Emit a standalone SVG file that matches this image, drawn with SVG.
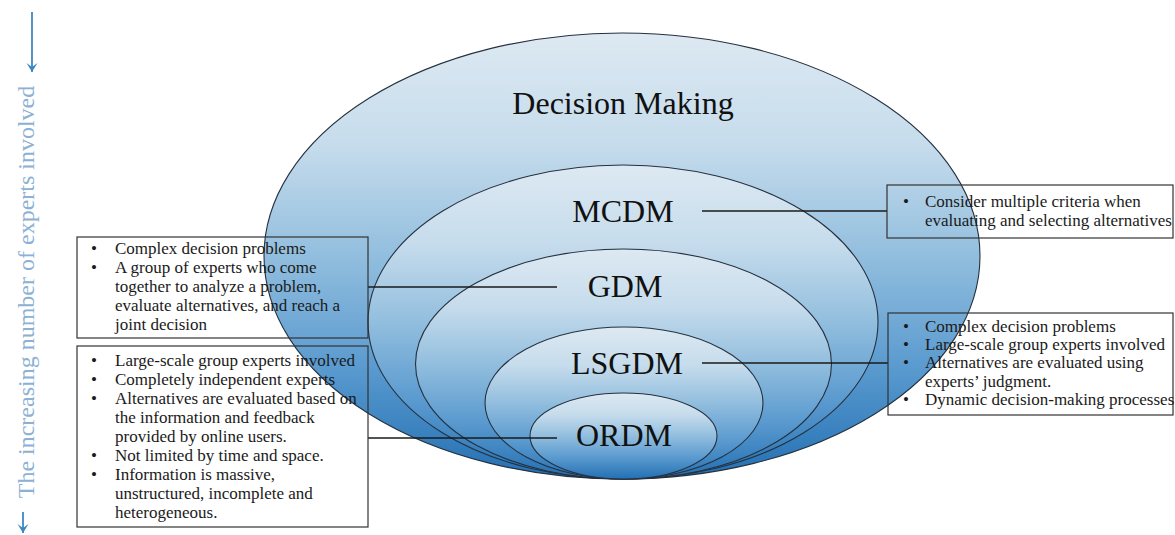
<svg xmlns="http://www.w3.org/2000/svg" width="1175" height="535" viewBox="0 0 1175 535">
<style>
  .ell { stroke: #26313f; stroke-width: 1.1; fill: url(#blue); }
  .lbl { font-family: "Liberation Serif", "Times New Roman", serif; font-size: 32px; fill: #111; text-anchor: middle; }
  .box { fill: none; stroke: #333; stroke-width: 1.2; }
  .bt { font-family: "Liberation Serif", "Times New Roman", serif; font-size: 17px; fill: #1a1a1a; }
  .con { stroke: #1a1a1a; stroke-width: 1.3; fill: none; }
  .side { font-family: "Liberation Serif", "Times New Roman", serif; font-size: 24px; fill: #8cb1d2; text-anchor: middle; }
  .arr { stroke: #3d88c2; stroke-width: 1.8; fill: none; }
</style>
<defs>
  <linearGradient id="blue" x1="0" y1="0" x2="0" y2="1">
    <stop offset="0" stop-color="#dde9f2"/>
    <stop offset="0.25" stop-color="#c6dcec"/>
    <stop offset="0.5" stop-color="#92bede"/>
    <stop offset="0.75" stop-color="#5a9acf"/>
    <stop offset="1" stop-color="#2370b3"/>
  </linearGradient>
  <marker id="ah" markerWidth="14" markerHeight="14" refX="7" refY="12" orient="0" markerUnits="userSpaceOnUse">
    <path d="M1.5,3 L7,12 L12.5,3 L7,7 Z" fill="#3d88c2"/>
  </marker>
</defs>

<g id="side-label">
  <line class="arr" x1="32" y1="12" x2="32" y2="72" marker-end="url(#ah)"/>
  <text class="side" transform="translate(34,292) rotate(-90)">The increasing number of experts involved</text>
  <line class="arr" x1="23" y1="512" x2="23" y2="533" marker-end="url(#ah)"/>
</g>

<g id="node-decision-making">
  <ellipse class="ell" cx="622" cy="256" rx="358" ry="223"/>
  <text class="lbl" x="623" y="114">Decision Making</text>
</g>
<g id="node-mcdm">
  <ellipse class="ell" cx="623" cy="322" rx="255" ry="157"/>
  <text class="lbl" x="623" y="222">MCDM</text>
</g>
<g id="node-gdm">
  <ellipse class="ell" cx="623.5" cy="364" rx="208" ry="115"/>
  <text class="lbl" x="625" y="297">GDM</text>
</g>
<g id="node-lsgdm">
  <ellipse class="ell" cx="624" cy="403" rx="139" ry="76"/>
  <text class="lbl" x="627" y="374">LSGDM</text>
</g>
<g id="node-ordm">
  <ellipse class="ell" cx="623.5" cy="436" rx="93.5" ry="43"/>
  <text class="lbl" x="624" y="446">ORDM</text>
</g>

<g id="connectors">
  <line class="con" x1="702" y1="211" x2="887" y2="211"/>
  <line class="con" x1="557" y1="287" x2="368" y2="287"/>
  <line class="con" x1="702" y1="363" x2="888" y2="363"/>
  <line class="con" x1="557" y1="438" x2="368" y2="438"/>
</g>

<g id="box-mcdm">
  <rect class="box" x="887" y="185" width="286" height="53"/>
  <text class="bt"><tspan x="903" y="207">•</tspan><tspan x="925" y="207">Consider multiple criteria when</tspan><tspan x="925" y="226">evaluating and selecting alternatives</tspan></text>
</g>

<g id="box-gdm">
  <rect class="box" x="77" y="237" width="291" height="101"/>
  <text class="bt">
    <tspan x="91" y="254">•</tspan><tspan x="115" y="254">Complex decision problems</tspan>
    <tspan x="91" y="273">•</tspan><tspan x="115" y="273">A group of experts who come</tspan>
    <tspan x="115" y="292">together to analyze a problem,</tspan>
    <tspan x="115" y="311">evaluate alternatives, and reach a</tspan>
    <tspan x="115" y="330">joint decision</tspan>
  </text>
</g>

<g id="box-lsgdm">
  <rect class="box" x="888" y="313" width="285" height="102"/>
  <text class="bt">
    <tspan x="903" y="332">•</tspan><tspan x="925" y="332">Complex decision problems</tspan>
    <tspan x="903" y="350">•</tspan><tspan x="925" y="350">Large-scale group experts involved</tspan>
    <tspan x="903" y="368">•</tspan><tspan x="925" y="368">Alternatives are evaluated using</tspan>
    <tspan x="925" y="387">experts’ judgment.</tspan>
    <tspan x="903" y="405">•</tspan><tspan x="925" y="405">Dynamic decision-making processes</tspan>
  </text>
</g>

<g id="box-ordm">
  <rect class="box" x="77" y="346" width="291" height="181"/>
  <text class="bt">
    <tspan x="91" y="366">•</tspan><tspan x="115" y="366">Large-scale group experts involved</tspan>
    <tspan x="91" y="385">•</tspan><tspan x="115" y="385">Completely independent experts</tspan>
    <tspan x="91" y="404">•</tspan><tspan x="115" y="404">Alternatives are evaluated based on</tspan>
    <tspan x="115" y="423">the information and feedback</tspan>
    <tspan x="115" y="442">provided by online users.</tspan>
    <tspan x="91" y="461">•</tspan><tspan x="115" y="461">Not limited by time and space.</tspan>
    <tspan x="91" y="480">•</tspan><tspan x="115" y="480">Information is massive,</tspan>
    <tspan x="115" y="499">unstructured, incomplete and</tspan>
    <tspan x="115" y="518">heterogeneous.</tspan>
  </text>
</g>
</svg>
